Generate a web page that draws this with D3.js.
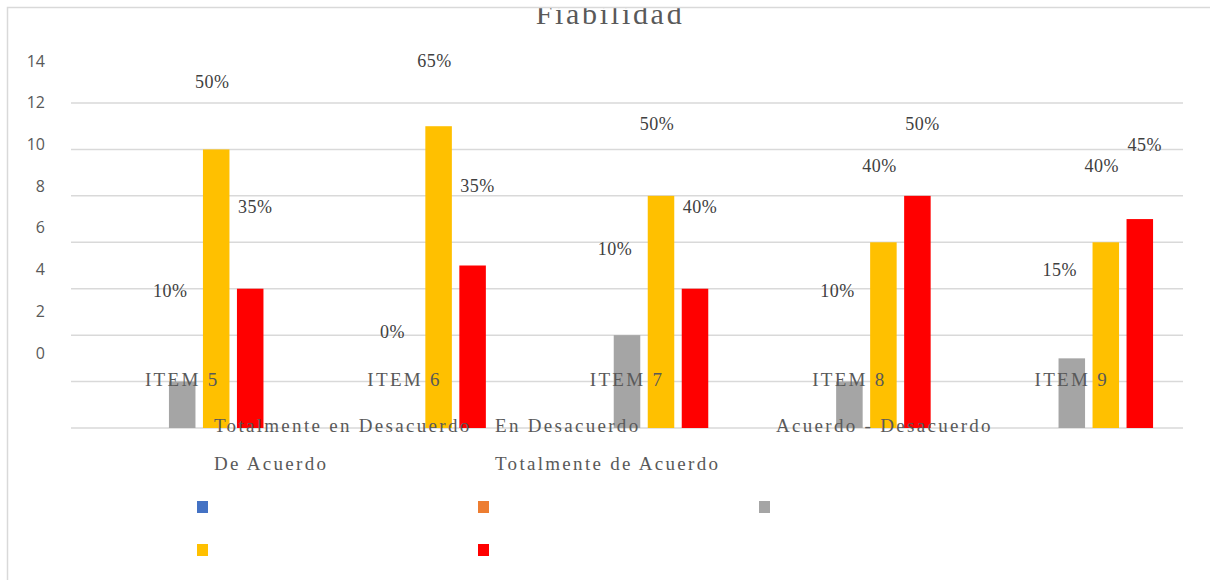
<!DOCTYPE html>
<html>
<meta charset="utf-8"/>
<head>
  <title>Fiabilidad</title>
  <script src="https://d3js.org/d3.v7.min.js" charset="utf-8"></script>
  <style>
    body { margin: 0; background: #fff; }
    svg { display: block; }
  </style>
</head>
<body>
<script>
  // data
  var items = ['ITEM 5', 'ITEM 6', 'ITEM 7', 'ITEM 8', 'ITEM 9'];
  var seriesNames = ['Totalmente en Desacuerdo', 'En Desacuerdo', 'Acuerdo - Desacuerdo', 'De Acuerdo', 'Totalmente de Acuerdo'];
  var seriesColors = ['#4472C4', '#ED7D31', '#A5A5A5', '#FFC000', '#FF0000'];
  var totDesacuerdo = [0, 0, 0, 0, 0];
  var enDesacuerdo = [0, 0, 0, 0, 0];
  var acuerdoDesacuerdo = [2, 0, 4, 2, 3];
  var deAcuerdo = [12, 13, 10, 8, 8];
  var totAcuerdo = [6, 7, 6, 10, 9];
  var labelsAcDes = ['10%', '0%', '10%', '10%', '15%'];
  var labelsDeAc = ['50%', '65%', '50%', '40%', '40%'];
  var labelsTotAc = ['35%', '35%', '40%', '50%', '45%'];
  var yTicks = [0, 2, 4, 6, 8, 10, 12, 14];

  var W = 1210, H = 580;
  var plot = {left: 71, right: 1183, top: 103, bottom: 428};

  var svg = d3.select('body').append('svg')
      .attr('width', W)
      .attr('height', H);

  svg.append('clipPath').attr('id', 'frame')
    .append('rect').attr('x', 7).attr('y', 7).attr('width', W).attr('height', H);

  var g = svg.append('g').attr('clip-path', 'url(#frame)');

  var values = [totDesacuerdo, enDesacuerdo, acuerdoDesacuerdo, deAcuerdo, totAcuerdo];
  var pctLabels = [null, null, labelsAcDes, labelsDeAc, labelsTotAc];
  var labelShift = [0, 0, -12, -4, 5];

  var x0 = d3.scaleBand().domain(items).range([plot.left, plot.right]);
  var x1 = d3.scaleBand().domain(d3.range(seriesNames.length))
      .range([-85, 85]).paddingInner(0.22).paddingOuter(0.11);
  var y = d3.scaleLinear().domain([0, 14]).range([plot.bottom, plot.top]);
  // the text layer of the original sits on a squeezed scale
  var yText = d3.scaleLinear().domain([0, 14]).range([353, 61]);

  // title (its top is cut off by the frame, as in the original)
  g.append('text')
    .attr('x', 610).attr('y', 24)
    .attr('text-anchor', 'middle')
    .style('font-family', '"Liberation Serif", serif')
    .style('font-size', '30px')
    .style('letter-spacing', '2.7px')
    .style('fill', '#595959')
    .text('Fiabilidad');

  // gridlines
  g.selectAll('line.grid').data(yTicks).enter().append('line')
    .attr('class', 'grid')
    .attr('x1', plot.left).attr('x2', plot.right)
    .attr('y1', function(d) { return y(d); })
    .attr('y2', function(d) { return y(d); })
    .style('stroke', '#d9d9d9')
    .style('stroke-width', 1.5);

  // y labels
  g.selectAll('text.ytick').data(yTicks).enter().append('text')
    .attr('class', 'ytick')
    .attr('x', 45)
    .attr('y', function(d) { return yText(d); })
    .attr('dy', '0.35em')
    .attr('text-anchor', 'end')
    .style('font-family', '"Open Sans", sans-serif')
    .style('font-size', '16px')
    .style('fill', '#595959')
    .text(function(d) { return d; });

  // bars
  for (var s = 0; s < values.length; s++) {
    g.selectAll('rect.bar-' + s).data(values[s]).enter().append('rect')
      .attr('class', 'bar-' + s)
      .attr('x', function(d, i) { return x0(items[i]) + x0.bandwidth() / 2 + x1(s); })
      .attr('width', x1.bandwidth())
      .attr('y', function(d) { return y(d); })
      .attr('height', function(d) { return y(0) - y(d); })
      .style('fill', seriesColors[s]);
  }

  // item labels
  g.selectAll('text.item').data(items).enter().append('text')
    .attr('class', 'item')
    .attr('x', function(d) { return x0(d) + x0.bandwidth() / 2 + x1(2) + x1.bandwidth() / 2; })
    .attr('y', 386)
    .attr('text-anchor', 'middle')
    .style('font-family', '"Liberation Serif", serif')
    .style('font-size', '19px')
    .style('letter-spacing', '2.3px')
    .style('fill', '#595959')
    .text(function(d) { return d; });

  // percentage labels
  for (var s = 2; s < values.length; s++) {
    (function(s) {
      g.selectAll('text.pct-' + s).data(values[s]).enter().append('text')
        .attr('class', 'pct-' + s)
        .attr('x', function(d, i) { return x0(items[i]) + x0.bandwidth() / 2 + x1(s) + x1.bandwidth() / 2 + labelShift[s]; })
        .attr('y', function(d) { return yText(d + 1); })
        .attr('dy', '0.35em')
        .attr('text-anchor', 'middle')
        .style('font-family', '"Liberation Serif", serif')
        .style('font-size', '18px')
        .style('letter-spacing', '0.5px')
        .style('fill', '#404040')
        .text(function(d, i) { return pctLabels[s][i]; });
    })(s);
  }

  // legend: swatches at the bottom, names drifted up over the axis
  var legendCol = function(i) { return 197 + (i % 3) * 281; };
  var legendRow = function(i) { return Math.floor(i / 3); };

  g.selectAll('rect.swatch').data(seriesNames).enter().append('rect')
    .attr('class', 'swatch')
    .attr('x', function(d, i) { return legendCol(i); })
    .attr('y', function(d, i) { return 501 + legendRow(i) * 43; })
    .attr('width', 11).attr('height', 12)
    .style('fill', function(d, i) { return seriesColors[i]; });

  g.selectAll('text.legend').data(seriesNames).enter().append('text')
    .attr('class', 'legend')
    .attr('x', function(d, i) { return legendCol(i) + 17; })
    .attr('y', function(d, i) { return 432 + legendRow(i) * 38; })
    .style('font-family', '"Liberation Serif", serif')
    .style('font-size', '19px')
    .style('letter-spacing', '2.3px')
    .style('fill', '#595959')
    .text(function(d) { return d; });

  // frame border
  svg.append('rect')
    .attr('x', 7.5).attr('y', 7.5)
    .attr('width', W).attr('height', H)
    .style('fill', 'none')
    .style('stroke', '#d9d9d9')
    .style('stroke-width', 1.5);
</script>
</body>
</html>
